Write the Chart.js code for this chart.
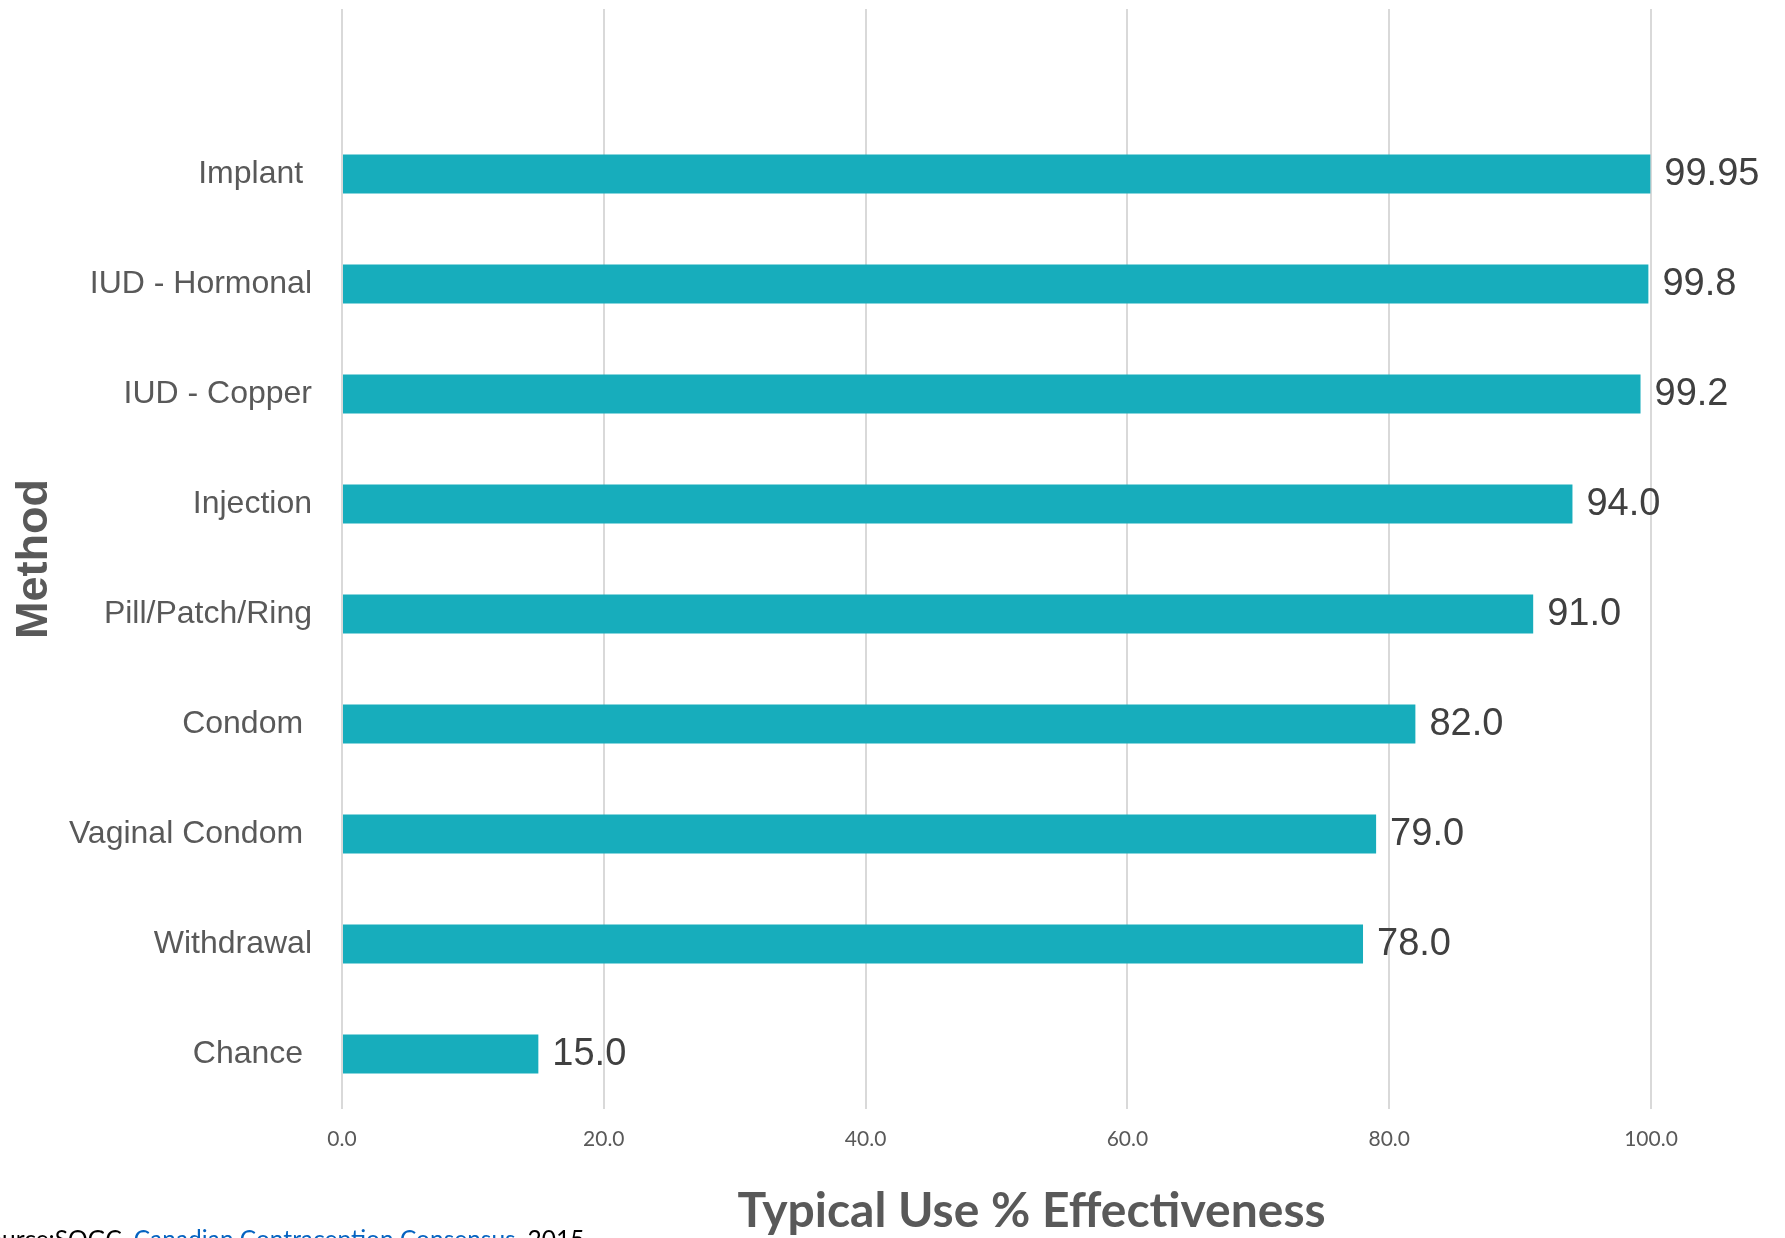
<!DOCTYPE html>
<html>
<head>
<meta charset="utf-8">
<title>Typical Use % Effectiveness</title>
<script src="https://cdn.jsdelivr.net/npm/chart.js@4.4.1/dist/chart.umd.min.js"></script>
<style>
  html, body { margin: 0; padding: 0; background: #fff; overflow: hidden; }
  #wrap { position: relative; width: 1785px; height: 1238px; overflow: hidden; }
  #source {
    position: absolute; left: -25px; top: 1226px;
    font: 24.5px Lato, sans-serif;
    line-height: 25px; color: #000; white-space: nowrap;
  }
  #source a { color: #0563C1; text-decoration: underline; }
</style>
</head>
<body>
<div id="wrap">
  <canvas id="chart" width="1785" height="1238"></canvas>
  <div id="source">Source:SOGC, <a>Canadian Contraception Consensus</a>, 2015</div>
</div>
<script>
  // trailing spaces copy the uneven label ends of the original
  const methods = ["Implant ", "IUD - Hormonal", "IUD - Copper", "Injection", "Pill/Patch/Ring", "Condom ", "Vaginal Condom ", "Withdrawal", "Chance "];
  const effectiveness = [99.95, 99.8, 99.2, 94.0, 91.0, 82.0, 79.0, 78.0, 15.0];
  const xTicks = [0, 20, 40, 60, 80, 100];

  // the original keeps one empty slot above the first bar
  const labels = [""].concat(methods);
  const values = [null].concat(effectiveness);

  function fmt(v) {
    return Number.isInteger(v) ? v.toFixed(1) : String(v);
  }

  const valueLabels = {
    id: "valueLabels",
    afterDatasetsDraw(chart) {
      const ctx = chart.ctx;
      const meta = chart.getDatasetMeta(0);
      ctx.save();
      ctx.font = '38px "Liberation Sans", Arial, sans-serif';
      ctx.fillStyle = "#404040";
      ctx.textBaseline = "middle";
      ctx.textAlign = "left";
      meta.data.forEach((bar, i) => {
        const v = values[i];
        if (v == null) return;
        ctx.fillText(fmt(v), bar.x + 14, bar.y + 1);
      });
      ctx.restore();
    }
  };

  new Chart(document.getElementById("chart"), {
    type: "bar",
    data: {
      labels: labels,
      datasets: [{
        data: values,
        backgroundColor: "#17ADBC",
        barPercentage: 0.353,
        categoryPercentage: 1
      }]
    },
    options: {
      indexAxis: "y",
      responsive: false,
      animation: false,
      devicePixelRatio: 1,
      layout: { padding: { top: 9, right: 134, left: 0, bottom: 0 } },
      plugins: { legend: { display: false }, tooltip: { enabled: false } },
      scales: {
        x: {
          min: 0,
          max: 100,
          afterBuildTicks: s => { s.ticks = xTicks.map(v => ({ value: v })); },
          afterFit: s => { s.height = 129; s.paddingLeft = 0; s.paddingRight = 0; },
          grid: { color: "#D9D9D9", lineWidth: 2, drawTicks: false },
          border: { display: false },
          ticks: {
            padding: 18,
            color: "#595959",
            font: { family: "Lato", size: 21 },
            callback: v => v.toFixed(1)
          },
          title: {
            display: true,
            // leading spaces nudge the title right of centre, as in the original
            text: "      Typical Use % Effectiveness",
            color: "#595959",
            font: { family: "Lato", size: 48, weight: "bold", lineHeight: 0.9 },
            padding: { top: 0, bottom: 5 }
          }
        },
        y: {
          afterFit: s => { s.width = 342; s.paddingTop = 0; s.paddingBottom = 0; },
          grid: { display: false },
          border: { display: false },
          ticks: {
            padding: 22,
            autoSkip: false,
            color: "#595959",
            font: { family: "Liberation Sans", size: 32 }
          },
          title: {
            display: true,
            text: "Method",
            color: "#595959",
            font: { family: "Liberation Sans", size: 45, weight: "bold", lineHeight: 1.2 },
            padding: { top: 8, bottom: 0 }
          }
        }
      }
    },
    plugins: [valueLabels]
  });
</script>
</body>
</html>
